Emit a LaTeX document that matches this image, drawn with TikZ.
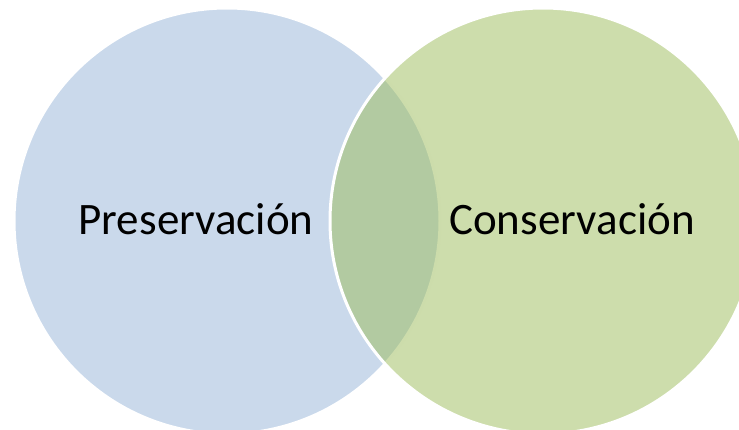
\documentclass[tikz,border=0pt]{standalone}
\usepackage{fontspec}
\setmainfont{Carlito}
\definecolor{presblue}{HTML}{4F81BD}
\definecolor{consgreen}{HTML}{9BBB59}
\begin{document}
\begin{tikzpicture}[x=1pt,y=1pt,
        venn/.style = {circle, minimum size=426pt, inner sep=0pt, draw=white, line width=3pt},
        lbl/.style = {anchor=base, font=\fontsize{45}{53}\selectfont}]
    \useasboundingbox (0,0) rectangle (739,429);
    \clip (0,0) rectangle (739,429);
    \node [venn, fill=presblue, fill opacity=0.3] (pres) at (227,208) {};
    \node [venn, fill=consgreen, fill opacity=0.5] (cons) at (543,208) {};
    \node [lbl] (preslabel) at (196,194) {Preservación};
    \node [lbl] (conslabel) at (572,194) {Conservación};
\end{tikzpicture}
\end{document}
